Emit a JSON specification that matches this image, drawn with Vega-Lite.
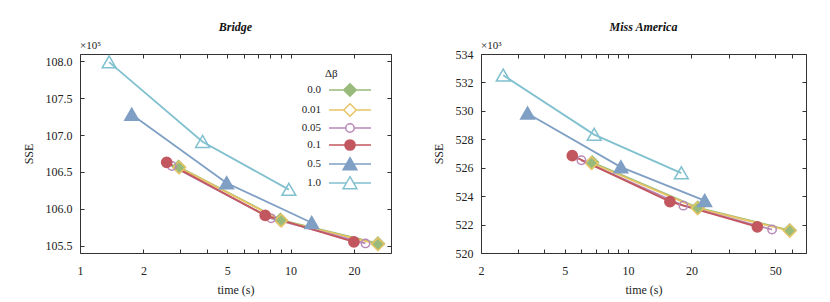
{
  "$schema": "https://vega.github.io/schema/vega-lite/v6.json",
  "padding": {"left": 21, "top": 20, "right": 5, "bottom": 5},
  "background": "white",
  "datasets": {
    "bridge": [
      {"beta": "0.0", "t": 2.94, "sse": 106.57},
      {"beta": "0.0", "t": 8.95, "sse": 105.85},
      {"beta": "0.0", "t": 26.0, "sse": 105.53},
      {"beta": "0.01", "t": 2.96, "sse": 106.56},
      {"beta": "0.01", "t": 9.03, "sse": 105.84},
      {"beta": "0.01", "t": 26.0, "sse": 105.52},
      {"beta": "0.05", "t": 2.73, "sse": 106.58},
      {"beta": "0.05", "t": 8.09, "sse": 105.87},
      {"beta": "0.05", "t": 22.7, "sse": 105.53},
      {"beta": "0.1", "t": 2.58, "sse": 106.63},
      {"beta": "0.1", "t": 7.58, "sse": 105.91},
      {"beta": "0.1", "t": 20.0, "sse": 105.55},
      {"beta": "0.5", "t": 1.76, "sse": 107.28},
      {"beta": "0.5", "t": 4.97, "sse": 106.35},
      {"beta": "0.5", "t": 12.6, "sse": 105.81},
      {"beta": "1.0", "t": 1.375, "sse": 107.99},
      {"beta": "1.0", "t": 3.82, "sse": 106.91},
      {"beta": "1.0", "t": 9.82, "sse": 106.26}
    ],
    "miss": [
      {"beta": "0.0", "t": 6.75, "sse": 526.38},
      {"beta": "0.0", "t": 21.4, "sse": 523.2},
      {"beta": "0.0", "t": 58.6, "sse": 521.6},
      {"beta": "0.01", "t": 6.7, "sse": 526.33},
      {"beta": "0.01", "t": 21.4, "sse": 523.14},
      {"beta": "0.01", "t": 58.6, "sse": 521.56},
      {"beta": "0.05", "t": 6.0, "sse": 526.52},
      {"beta": "0.05", "t": 18.3, "sse": 523.33},
      {"beta": "0.05", "t": 48.3, "sse": 521.65},
      {"beta": "0.1", "t": 5.43, "sse": 526.85},
      {"beta": "0.1", "t": 15.8, "sse": 523.61},
      {"beta": "0.1", "t": 41.1, "sse": 521.84},
      {"beta": "0.5", "t": 3.33, "sse": 529.82},
      {"beta": "0.5", "t": 9.24, "sse": 526.04},
      {"beta": "0.5", "t": 23.1, "sse": 523.68},
      {"beta": "1.0", "t": 2.55, "sse": 532.5},
      {"beta": "1.0", "t": 6.9, "sse": 528.33},
      {"beta": "1.0", "t": 17.9, "sse": 525.62}
    ]
  },
  "config": {
    "view": {"stroke": "#333", "strokeWidth": 1},
    "font": "Liberation Serif, DejaVu Serif, serif",
    "axis": {
      "domain": false, "grid": false,
      "labelFont": "Liberation Serif, DejaVu Serif, serif", "labelFontSize": 12, "labelColor": "#222",
      "titleFont": "Liberation Serif, DejaVu Serif, serif", "titleFontSize": 12, "titleFontWeight": "normal", "titleColor": "#222",
      "tickColor": "#333", "tickWidth": 1, "tickSize": -4,
      "labelFlush": false, "labelOverlap": false, "labelBound": false
    },
    "axisX": {"labelPadding": 16, "titlePadding": 8},
    "axisY": {"labelPadding": 12, "titlePadding": 10},
    "title": {"font": "Liberation Serif, DejaVu Serif, serif", "fontSize": 12, "fontStyle": "italic", "fontWeight": "bold", "frame": "group", "offset": 6, "color": "#111"}
  },
  "spacing": 39,
  "hconcat": [
    {
      "width": 311, "height": 199,
      "title": "Bridge",
      "layer": [
        {
          "data": {"name": "bridge"},
          "mark": {"type": "line", "strokeWidth": 1.8},
          "encoding": {
            "x": {"field": "t", "type": "quantitative",
              "scale": {"type": "log", "domain": [1, 30], "nice": false},
              "axis": {"orient": "bottom", "title": "time (s)", "values": [1,2,3,4,5,6,7,8,9,10,20,30],
                "labelExpr": "indexof([1,2,5,10,20], datum.value) >= 0 ? format(datum.value, 'd') : ''"}},
            "y": {"field": "sse", "type": "quantitative",
              "scale": {"domain": [105.4, 108.1], "nice": false, "zero": false},
              "axis": {"orient": "left", "title": "SSE", "values": [105.5,106,106.5,107,107.5,108], "format": ".1f"}},
            "color": {"field": "beta", "type": "nominal",
              "scale": {"domain": ["0.0","0.01","0.05","0.1","0.5","1.0"], "range": ["#98bb7c","#e8c463","#b889b8","#c2575f","#7f9fc4","#80c0cf"]},
              "legend": null}
          }
        },
        {
          "data": {"name": "bridge"},
          "mark": {"type": "point", "size": 144, "strokeWidth": 1.5, "opacity": 1},
          "encoding": {
            "x": {"field": "t", "type": "quantitative",
              "axis": {"orient": "top", "title": null, "labels": false, "values": [1,2,3,4,5,6,7,8,9,10,20,30]}},
            "y": {"field": "sse", "type": "quantitative",
              "axis": {"orient": "right", "title": null, "labels": false, "values": [105.5,106,106.5,107,107.5,108]}},
            "shape": {"field": "beta", "type": "nominal", "legend": null,
              "scale": {"domain": ["0.0","0.01","0.05","0.1","0.5","1.0"],
                "range": ["M0,-1.05L1.05,0L0,1.05L-1.05,0Z","M0,-1.05L1.05,0L0,1.05L-1.05,0Z","M-0.7,0A0.7,0.7,0,1,1,0.7,0A0.7,0.7,0,1,1,-0.7,0Z","M-0.85,0A0.85,0.85,0,1,1,0.85,0A0.85,0.85,0,1,1,-0.85,0Z","M0,-1.05L1.15,0.95L-1.15,0.95Z","M0,-1.05L1.15,0.95L-1.15,0.95Z"]}},
            "fill": {"field": "beta", "type": "nominal", "legend": null,
              "scale": {"domain": ["0.0","0.01","0.05","0.1","0.5","1.0"], "range": ["#98bb7c","transparent","transparent","#c2575f","#7f9fc4","transparent"]}},
            "stroke": {"field": "beta", "type": "nominal", "legend": null,
              "scale": {"domain": ["0.0","0.01","0.05","0.1","0.5","1.0"], "range": ["#98bb7c","#e8c463","#b889b8","#c2575f","#7f9fc4","#80c0cf"]}}
          }
        },
        {
          "data": {"name": "bridge"},
          "transform": [{"filter": "false"}],
          "mark": {"type": "point", "strokeWidth": 1.5, "opacity": 1},
          "encoding": {
            "shape": {"field": "beta", "type": "nominal",
              "scale": {"domain": ["0.0","0.01","0.05","0.1","0.5","1.0"],
                "range": ["M-3.5,0H-1.05M1.05,0H3.5M0,-1.05L1.05,0L0,1.05L-1.05,0Z","M-3.5,0H-1.05M1.05,0H3.5M0,-1.05L1.05,0L0,1.05L-1.05,0Z","M-3.5,0H-0.7M0.7,0H3.5M-0.7,0A0.7,0.7,0,1,1,0.7,0A0.7,0.7,0,1,1,-0.7,0Z","M-3.5,0H-0.85M0.85,0H3.5M-0.85,0A0.85,0.85,0,1,1,0.85,0A0.85,0.85,0,1,1,-0.85,0Z","M-3.5,0H-0.6M0.6,0H3.5M0,-1.05L1.15,0.95L-1.15,0.95Z","M-3.5,0H-0.6M0.6,0H3.5M0,-1.05L1.15,0.95L-1.15,0.95Z"]},
              "legend": {"orient": "none", "legendX": 245, "legendY": 14, "title": "Δβ", "titleFont": "Liberation Serif, DejaVu Serif, serif", "titleFontSize": 11, "titleFontWeight": "normal", "titleColor": "#222", "labelFont": "Liberation Serif, DejaVu Serif, serif", "labelFontSize": 11, "labelColor": "#222", "labelAlign": "right", "labelOffset": -36, "symbolOffset": 18, "symbolSize": 144, "symbolStrokeWidth": 1.5, "rowPadding": 0, "padding": 0, "titlePadding": 4}},
            "fill": {"field": "beta", "type": "nominal",
              "scale": {"domain": ["0.0","0.01","0.05","0.1","0.5","1.0"], "range": ["#98bb7c","transparent","transparent","#c2575f","#7f9fc4","transparent"]},
              "legend": {"orient": "none", "legendX": 245, "legendY": 14, "title": "Δβ", "titleFont": "Liberation Serif, DejaVu Serif, serif", "titleFontSize": 11, "titleFontWeight": "normal", "titleColor": "#222", "labelFont": "Liberation Serif, DejaVu Serif, serif", "labelFontSize": 11, "labelColor": "#222", "labelAlign": "right", "labelOffset": -36, "symbolOffset": 18, "symbolSize": 144, "symbolStrokeWidth": 1.5, "rowPadding": 0, "padding": 0, "titlePadding": 4}},
            "stroke": {"field": "beta", "type": "nominal",
              "scale": {"domain": ["0.0","0.01","0.05","0.1","0.5","1.0"], "range": ["#98bb7c","#e8c463","#b889b8","#c2575f","#7f9fc4","#80c0cf"]},
              "legend": {"orient": "none", "legendX": 245, "legendY": 14, "title": "Δβ", "titleFont": "Liberation Serif, DejaVu Serif, serif", "titleFontSize": 11, "titleFontWeight": "normal", "titleColor": "#222", "labelFont": "Liberation Serif, DejaVu Serif, serif", "labelFontSize": 11, "labelColor": "#222", "labelAlign": "right", "labelOffset": -36, "symbolOffset": 18, "symbolSize": 144, "symbolStrokeWidth": 1.5, "rowPadding": 0, "padding": 0, "titlePadding": 4}}
          }
        },
        {
          "data": {"values": [{"note": "×10⁵"}]},
          "mark": {"type": "text", "align": "left", "baseline": "bottom", "dy": -3, "font": "Liberation Serif, DejaVu Serif, serif", "fontSize": 11, "color": "#222"},
          "encoding": {
            "x": {"datum": 1, "type": "quantitative", "axis": null},
            "y": {"datum": 108.1, "type": "quantitative", "axis": null},
            "text": {"field": "note"}
          }
        }
      ],
      "resolve": {"scale": {"shape": "independent", "fill": "independent", "stroke": "independent"}, "axis": {"x": "independent", "y": "independent"}}
    },
    {
      "width": 325, "height": 199,
      "title": "Miss America",
      "layer": [
        {
          "data": {"name": "miss"},
          "mark": {"type": "line", "strokeWidth": 1.8},
          "encoding": {
            "x": {"field": "t", "type": "quantitative",
              "scale": {"type": "log", "domain": [2, 70], "nice": false},
              "axis": {"orient": "bottom", "title": "time (s)", "values": [2,3,4,5,6,7,8,9,10,20,30,40,50,60,70],
                "labelExpr": "indexof([2,5,10,20,50], datum.value) >= 0 ? format(datum.value, 'd') : ''"}},
            "y": {"field": "sse", "type": "quantitative",
              "scale": {"domain": [520, 534], "nice": false, "zero": false},
              "axis": {"orient": "left", "title": "SSE", "values": [520,522,524,526,528,530,532,534], "format": "d"}},
            "color": {"field": "beta", "type": "nominal",
              "scale": {"domain": ["0.0","0.01","0.05","0.1","0.5","1.0"], "range": ["#98bb7c","#e8c463","#b889b8","#c2575f","#7f9fc4","#80c0cf"]},
              "legend": null}
          }
        },
        {
          "data": {"name": "miss"},
          "mark": {"type": "point", "size": 144, "strokeWidth": 1.5, "opacity": 1},
          "encoding": {
            "x": {"field": "t", "type": "quantitative",
              "axis": {"orient": "top", "title": null, "labels": false, "values": [2,3,4,5,6,7,8,9,10,20,30,40,50,60,70]}},
            "y": {"field": "sse", "type": "quantitative",
              "axis": {"orient": "right", "title": null, "labels": false, "values": [520,522,524,526,528,530,532,534]}},
            "shape": {"field": "beta", "type": "nominal", "legend": null,
              "scale": {"domain": ["0.0","0.01","0.05","0.1","0.5","1.0"],
                "range": ["M0,-1.05L1.05,0L0,1.05L-1.05,0Z","M0,-1.05L1.05,0L0,1.05L-1.05,0Z","M-0.7,0A0.7,0.7,0,1,1,0.7,0A0.7,0.7,0,1,1,-0.7,0Z","M-0.85,0A0.85,0.85,0,1,1,0.85,0A0.85,0.85,0,1,1,-0.85,0Z","M0,-1.05L1.15,0.95L-1.15,0.95Z","M0,-1.05L1.15,0.95L-1.15,0.95Z"]}},
            "fill": {"field": "beta", "type": "nominal", "legend": null,
              "scale": {"domain": ["0.0","0.01","0.05","0.1","0.5","1.0"], "range": ["#98bb7c","transparent","transparent","#c2575f","#7f9fc4","transparent"]}},
            "stroke": {"field": "beta", "type": "nominal", "legend": null,
              "scale": {"domain": ["0.0","0.01","0.05","0.1","0.5","1.0"], "range": ["#98bb7c","#e8c463","#b889b8","#c2575f","#7f9fc4","#80c0cf"]}}
          }
        },
        {
          "data": {"values": [{"note": "×10³"}]},
          "mark": {"type": "text", "align": "left", "baseline": "bottom", "dy": -3, "font": "Liberation Serif, DejaVu Serif, serif", "fontSize": 11, "color": "#222"},
          "encoding": {
            "x": {"datum": 2, "type": "quantitative", "axis": null},
            "y": {"datum": 534, "type": "quantitative", "axis": null},
            "text": {"field": "note"}
          }
        }
      ],
      "resolve": {"scale": {"shape": "independent", "fill": "independent", "stroke": "independent"}, "axis": {"x": "independent", "y": "independent"}}
    }
  ],
  "resolve": {"scale": {"color": "independent", "shape": "independent", "fill": "independent", "stroke": "independent"}}
}
